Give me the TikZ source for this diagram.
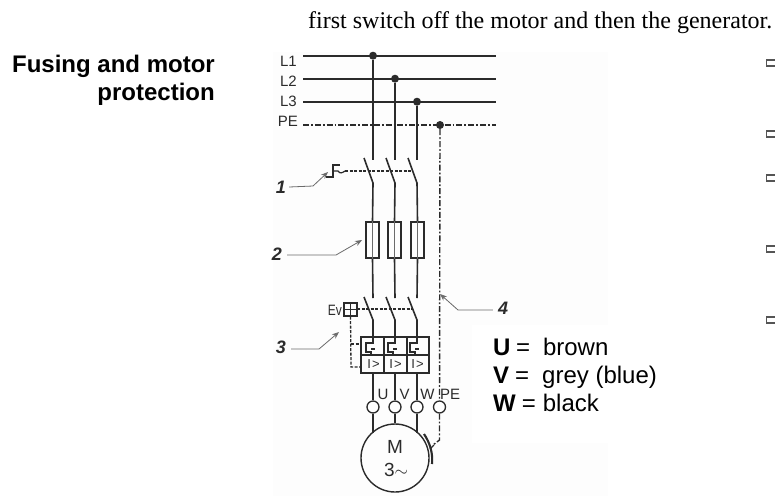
\documentclass[tikz,border=0pt]{standalone}
\usepackage{fontspec}
\setmainfont{Liberation Sans}
\newfontfamily\serifbody{Liberation Serif}
\usetikzlibrary{arrows.meta,calc}
\definecolor{ink}{HTML}{2B2B2B}
\definecolor{sheet}{HTML}{FDFDFD}
\tikzset{
  x=1pt,y=-1pt,
  wire/.style={draw=ink,line width=1.6pt},
  pewire/.style={draw=ink,line width=1.4pt,dash pattern=on 6pt off 2pt on 1.8pt off 2pt},
  link/.style={draw=ink,line width=1.3pt,dash pattern=on 3pt off 1.5pt},
  pointer/.style={draw=ink!70,line width=0.8pt,-{Stealth[length=7pt,width=5.5pt]}},
  dotnode/.style={circle,fill=ink,inner sep=0pt,minimum size=8pt},
  fusebox/.style={draw=ink,line width=1.9pt,minimum width=12.5pt,minimum height=36pt,inner sep=0pt},
  term/.style={circle,draw=ink,line width=1.3pt,fill=white,inner sep=0pt,minimum size=12pt},
  small/.style={font=\fontsize{15}{17}\selectfont,text=ink,inner sep=0pt},
  callout/.style={font=\fontsize{18}{20}\selectfont\bfseries\itshape,text=ink,inner sep=0pt},
  colour/.style={font=\fontsize{24}{28}\selectfont,text=black,inner sep=0pt,anchor=base west},
  heading/.style={font=\fontsize{24}{28}\selectfont\bfseries,text=black,inner sep=0pt,anchor=base east},
  bullet/.style={draw=ink!80,line width=1.2pt},
}
\begin{document}
\begin{tikzpicture}
\useasboundingbox (0,0) rectangle (775,496);
\fill[white] (0,0) rectangle (775,496);
\fill[sheet] (273,52) rectangle (608,496);
\fill[white] (472,325) rectangle (608,443);

\node[anchor=base west,inner sep=0pt,font=\fontsize{24}{28}\selectfont\serifbody] (top) at (308,28) {first switch off the motor and then the generator.};
\node[heading] (h1) at (215,72) {Fusing and motor};
\node[heading] (h2) at (215,100) {protection};

% busbars
\coordinate (l1a) at (303,55.7); \coordinate (l1b) at (496,55.7);
\coordinate (l2a) at (303,78.7); \coordinate (l2b) at (496,78.7);
\coordinate (l3a) at (303,101.7); \coordinate (l3b) at (496,101.7);
\coordinate (pea) at (303,125); \coordinate (peb) at (496,125);
\draw[wire] (l1a) -- (l1b);
\draw[wire] (l2a) -- (l2b);
\draw[wire] (l3a) -- (l3b);
\draw[pewire] (pea) -- (peb);
\node[small,anchor=base east] (tl1) at (297,66.5) {L1};
\node[small,anchor=base east] (tl2) at (297,86) {L2};
\node[small,anchor=base east] (tl3) at (297,106) {L3};
\node[small,anchor=base east] (tpe) at (298,126) {PE};
\node[dotnode] (d1) at (373,55.7) {};
\node[dotnode] (d2) at (395,78.7) {};
\node[dotnode] (d3) at (417,101.7) {};
\node[dotnode] (d4) at (440,125) {};

% fuses
\node[fusebox] (f1) at (372.5,240) {};
\node[fusebox] (f2) at (394.5,240) {};
\node[fusebox] (f3) at (417.5,240) {};
\foreach \n in {1,2,3} \draw[draw=ink!70,line width=0.8pt] (f\n.north) -- (f\n.south);

% upper disconnector
\foreach \x/\d/\f in {373/d1/f1,395/d2/f2,417/d3/f3}{
  \draw[wire] (\d) -- (\x,160);
  \draw[wire] (\x-9,158) -- (\x,183) -- (\f.north);
}
% lower disconnector
\foreach \x/\f in {373/f1,395/f2,417/f3}{
  \draw[wire] (\f.south) -- (\x,298);
  \draw[wire] (\x-9,297) -- (\x,320) -- (\x,337);
}
\draw[link] (345,171) -- (412,171);
\draw[link] (357,309) -- (412,309);

% trip symbol F
\draw[draw=ink,line width=1.4pt] (326,177) -- (333,177) -- (333,165) -- (340,165);
\draw[draw=ink,line width=1.2pt] (333,171) -- (338,171) .. controls (340,174) and (342,173) .. (345,171);

% Ev coil
\node[draw=ink,line width=1.8pt,minimum size=12.5pt,inner sep=0pt] (ev) at (350.5,309.5) {};
\draw[draw=ink,line width=1.3pt] (ev.north) -- (ev.south) (ev.west) -- (ev.east);
\node[small,anchor=east,font=\fontsize{15}{17}\selectfont] (tev) at (342,310) {\scalebox{0.8}[1]{Ev}};

% protection block
\node[draw=ink,line width=2.2pt,minimum width=68pt,minimum height=36pt,inner sep=0pt] (blk) at (395,355) {};
\draw[draw=ink,line width=1.8pt] (blk.west) -- (blk.east) (384,337) -- (384,373) (407,337) -- (407,373);
\draw[link] (ev.south) -- (351,367) -- (361,367);
\draw[link] (351,344) -- (361,344);
\foreach \x in {373,395,417}{
  \draw[draw=ink,line width=1.3pt] (\x,337) -- (\x,343) -- (\x-7,343) -- (\x-7,352) -- (\x-2,352) -- (\x-2,355);
  \draw[draw=ink,line width=1.3pt] (\x-2,349) -- (\x+2,349);
  \node[small,font=\fontsize{13}{14}\selectfont] at (\x+0.5,364) {I\kern1pt>};
}

% terminals and motor
\node[term] (tu) at (373,407) {};
\node[term] (tv) at (395,407) {};
\node[term] (tw) at (417,407) {};
\node[term] (tp) at (439.5,407) {};
\node[circle,draw=ink,line width=1.4pt,minimum size=68pt,inner sep=0pt] (mot) at (395,458) {};
\draw[wire] (373,373) -- (tu);
\draw[wire] (395,373) -- (tv);
\draw[wire] (417,373) -- (tw);
\draw[wire] (tu) -- (373,433);
\draw[wire] (tv) -- (mot.north);
\draw[wire] (tw) -- (417,433);
\node[small] (lu) at (383,394) {U};
\node[small] (lv) at (404.5,394) {V};
\node[small] (lw) at (427.5,394) {W};
\node[small] (lp) at (450,394) {PE};
\node[small,font=\fontsize{19}{21}\selectfont] (mm) at (395,447) {M};
\node[small,font=\fontsize{19}{21}\selectfont] (m3) at (396,470) {3$\sim$};

% earth
\draw[pewire] (d4) -- (tp);
\draw[pewire] (tp) -- (439.5,440) -- (433,445);
\draw[draw=ink,line width=2.1pt] (424,434) .. controls (430,443) and (433,453) .. (432,464);
\draw[draw=ink,line width=1.2pt] (434,445) -- (430,449);

% callouts
\node[callout] (c1) at (281,187) {1};
\node[callout] (c2) at (277,254) {2};
\node[callout] (c3) at (281,347) {3};
\node[callout] (c4) at (503,308) {4};
\draw[pointer] (c1.east) ++(3,0) -- (313,186) -- (328,172);
\draw[pointer] (c2.east) ++(5,1) -- (336,255) -- (362,240);
\draw[pointer] (c3.east) ++(5,2) -- (319,349) -- (339,332);
\draw[pointer] (c4.west) ++(-5,2) -- (458,310) -- (440,294);

% colours
\node[colour] (u) at (493,355) {\textbf{U}\kern5.5pt=\kern13pt brown};
\node[colour] (v) at (493,383) {\textbf{V}\kern6pt=\kern13pt grey (blue)};
\node[colour] (w) at (493,411) {\textbf{W}\kern6pt=\kern7pt black};

% page bullets
\foreach \y in {63,134,178,249,320}
  \draw[bullet] (775,\y-3) -- (766.5,\y-3) -- (766.5,\y+3) -- (775,\y+3);
\end{tikzpicture}
\end{document}
